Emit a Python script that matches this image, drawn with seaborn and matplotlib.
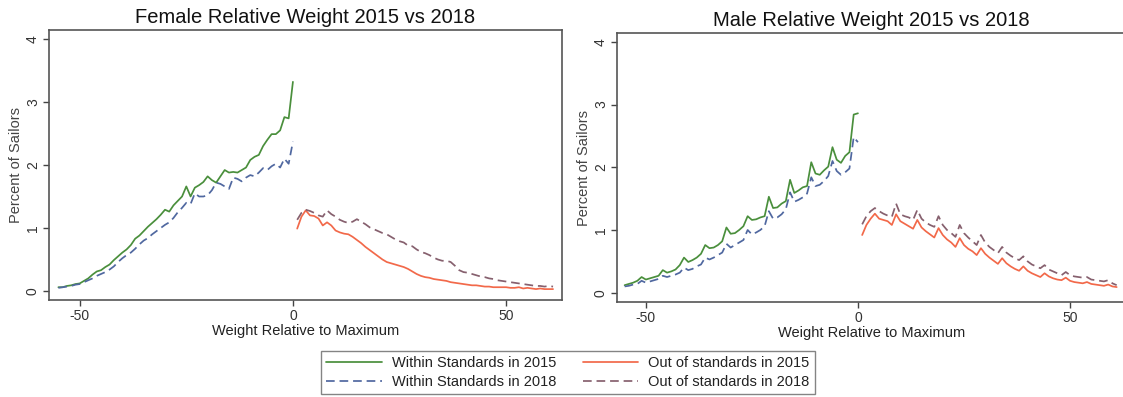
import numpy as np
import pandas as pd
import matplotlib
matplotlib.use("Agg")
import matplotlib.pyplot as plt
import seaborn as sns
from matplotlib.lines import Line2D

# ---------------- data ----------------
x_within = list(range(-55, 1))   # -55 .. 0
x_out = list(range(1, 62))       # 1 .. 61

female_within_2015 = [0.06, 0.06, 0.08, 0.09, 0.11, 0.12, 0.16, 0.20, 0.26, 0.31,
                      0.33, 0.38, 0.42, 0.49, 0.55, 0.61, 0.66, 0.73, 0.83, 0.88,
                      0.95, 1.02, 1.08, 1.14, 1.21, 1.29, 1.26, 1.36, 1.43, 1.50,
                      1.66, 1.50, 1.64, 1.68, 1.73, 1.82, 1.76, 1.72, 1.82, 1.92,
                      1.88, 1.89, 1.88, 1.92, 1.96, 2.08, 2.13, 2.16, 2.30, 2.40,
                      2.49, 2.49, 2.55, 2.76, 2.74, 3.32]
female_within_2018 = [0.05, 0.06, 0.07, 0.08, 0.10, 0.11, 0.14, 0.17, 0.20, 0.24,
                      0.27, 0.30, 0.34, 0.39, 0.46, 0.52, 0.57, 0.61, 0.67, 0.74,
                      0.80, 0.84, 0.90, 0.95, 1.00, 1.05, 1.09, 1.16, 1.25, 1.32,
                      1.40, 1.38, 1.55, 1.50, 1.50, 1.52, 1.60, 1.72, 1.70, 1.66,
                      1.62, 1.80, 1.78, 1.74, 1.80, 1.84, 1.82, 1.88, 1.95, 1.92,
                      1.98, 2.02, 1.96, 2.10, 2.02, 2.37]
female_out_2015 = [0.99, 1.18, 1.28, 1.20, 1.19, 1.15, 1.04, 1.09, 1.04, 0.96,
                   0.93, 0.91, 0.90, 0.86, 0.81, 0.76, 0.70, 0.65, 0.60, 0.55,
                   0.50, 0.46, 0.44, 0.42, 0.40, 0.38, 0.35, 0.31, 0.27, 0.24,
                   0.22, 0.21, 0.19, 0.18, 0.17, 0.16, 0.14, 0.13, 0.12, 0.11,
                   0.10, 0.09, 0.09, 0.08, 0.07, 0.07, 0.06, 0.06, 0.06, 0.06,
                   0.05, 0.05, 0.06, 0.04, 0.05, 0.04, 0.03, 0.04, 0.03, 0.03,
                   0.03]
female_out_2018 = [1.13, 1.24, 1.29, 1.27, 1.24, 1.20, 1.18, 1.28, 1.22, 1.18,
                   1.13, 1.10, 1.08, 1.10, 1.14, 1.10, 1.06, 1.01, 0.98, 0.95,
                   0.92, 0.90, 0.86, 0.82, 0.79, 0.77, 0.72, 0.71, 0.66, 0.62,
                   0.60, 0.57, 0.53, 0.50, 0.48, 0.48, 0.46, 0.40, 0.33, 0.30,
                   0.29, 0.27, 0.25, 0.23, 0.22, 0.20, 0.19, 0.17, 0.16, 0.15,
                   0.14, 0.13, 0.12, 0.11, 0.10, 0.09, 0.08, 0.08, 0.07, 0.08,
                   0.07]

male_within_2015 = [0.12, 0.14, 0.16, 0.19, 0.25, 0.21, 0.23, 0.25, 0.27, 0.36,
                    0.32, 0.34, 0.37, 0.44, 0.56, 0.49, 0.52, 0.56, 0.62, 0.76,
                    0.71, 0.72, 0.76, 0.82, 1.04, 0.94, 0.95, 1.00, 1.06, 1.22,
                    1.16, 1.17, 1.20, 1.22, 1.53, 1.35, 1.36, 1.42, 1.46, 1.80,
                    1.59, 1.63, 1.68, 1.70, 2.08, 1.90, 1.88, 1.95, 2.01, 2.32,
                    2.12, 2.07, 2.18, 2.24, 2.84, 2.86]
male_within_2018 = [0.10, 0.11, 0.13, 0.14, 0.19, 0.16, 0.18, 0.20, 0.22, 0.27,
                    0.25, 0.27, 0.29, 0.32, 0.40, 0.36, 0.38, 0.42, 0.45, 0.56,
                    0.53, 0.56, 0.60, 0.64, 0.78, 0.72, 0.76, 0.80, 0.84, 1.00,
                    0.93, 0.96, 1.00, 1.06, 1.30, 1.18, 1.20, 1.25, 1.33, 1.60,
                    1.45, 1.48, 1.52, 1.58, 1.84, 1.70, 1.72, 1.78, 1.86, 2.10,
                    1.94, 1.88, 1.92, 1.98, 2.48, 2.40]
male_out_2015 = [0.92, 1.08, 1.18, 1.26, 1.18, 1.16, 1.14, 1.08, 1.25, 1.14,
                 1.10, 1.06, 1.02, 1.16, 1.04, 0.98, 0.93, 0.88, 1.03, 0.92,
                 0.85, 0.80, 0.73, 0.87, 0.76, 0.70, 0.66, 0.60, 0.71, 0.62,
                 0.56, 0.51, 0.46, 0.55, 0.47, 0.42, 0.38, 0.35, 0.42, 0.35,
                 0.31, 0.28, 0.25, 0.31, 0.26, 0.23, 0.21, 0.20, 0.24, 0.19,
                 0.17, 0.16, 0.15, 0.17, 0.14, 0.13, 0.12, 0.11, 0.13, 0.10,
                 0.09]
male_out_2018 = [1.09, 1.22, 1.30, 1.35, 1.30, 1.26, 1.23, 1.21, 1.42, 1.25,
                 1.22, 1.20, 1.16, 1.32, 1.18, 1.12, 1.08, 1.05, 1.22, 1.08,
                 1.00, 0.95, 0.89, 1.08, 0.95, 0.88, 0.82, 0.76, 0.92, 0.80,
                 0.73, 0.68, 0.63, 0.73, 0.64, 0.59, 0.55, 0.52, 0.58, 0.50,
                 0.45, 0.42, 0.39, 0.44, 0.37, 0.34, 0.31, 0.28, 0.33, 0.28,
                 0.26, 0.25, 0.24, 0.25, 0.21, 0.20, 0.19, 0.18, 0.20, 0.15,
                 0.12]

# legend order (column-major: first column = Within, second = Out of)
series_labels = ["Within Standards in 2015", "Within Standards in 2018",
                 "Out of standards in 2015", "Out of standards in 2018"]
panel_titles = ["Female Relative Weight 2015 vs 2018", "Male Relative Weight 2015 vs 2018"]
x_ticks = [-50, 0, 50]
y_ticks = [0, 1, 2, 3, 4]
x_label = "Weight Relative to Maximum"
y_label = "Percent of Sailors"

# ---------------- style ----------------
sns.set_theme(style="white")
plt.rcParams['font.family'] = ['Liberation Sans', 'DejaVu Sans']

styles = {
    "Within Standards in 2015": dict(color="#4a8f3c", ls="-"),
    "Within Standards in 2018": dict(color="#5068a0", ls=(0, (5, 2.8))),
    "Out of standards in 2015": dict(color="#f2694a", ls="-"),
    "Out of standards in 2018": dict(color="#86606e", ls=(0, (5, 2.8))),
}

panels = [
    {"Within Standards in 2015": (x_within, female_within_2015),
     "Within Standards in 2018": (x_within, female_within_2018),
     "Out of standards in 2015": (x_out, female_out_2015),
     "Out of standards in 2018": (x_out, female_out_2018)},
    {"Within Standards in 2015": (x_within, male_within_2015),
     "Within Standards in 2018": (x_within, male_within_2018),
     "Out of standards in 2015": (x_out, male_out_2015),
     "Out of standards in 2018": (x_out, male_out_2018)},
]

W, H = 1123, 397
fig = plt.figure(figsize=(W / 100, H / 100), dpi=100)
fig.patch.set_facecolor("white")

def frac(l, r, t, b):
    return [l / W, (H - b) / H, (r - l) / W, (b - t) / H]

axes = [fig.add_axes(frac(49, 562, 30, 300)),
        fig.add_axes(frac(617, 1126, 33, 302))]
xlims = [(-57.2, 63.1), (-56.8, 63.2)]
ylims = [(-0.143, 4.143), (-0.148, 4.14)]

draw_order = ["Within Standards in 2015", "Within Standards in 2018",
              "Out of standards in 2015", "Out of standards in 2018"]

for ax, pdata, title, xl, yl in zip(axes, panels, panel_titles, xlims, ylims):
    for name in draw_order:
        xs, ys = pdata[name]
        df = pd.DataFrame({"x": xs, "y": ys})
        st = styles[name]
        sns.lineplot(data=df, x="x", y="y", ax=ax, color=st["color"],
                     linestyle=st["ls"], linewidth=1.25, estimator=None, sort=False)
    ax.set_xlim(*xl)
    ax.set_ylim(*yl)
    ax.set_xticks(x_ticks)
    ax.set_yticks(y_ticks)
    ax.set_xticklabels([str(v) for v in x_ticks])
    ax.set_yticklabels([str(v) for v in y_ticks], rotation=90, va="center")
    ax.tick_params(axis="both", direction="out", length=4.5, width=1.0,
                   color="#444444", labelcolor="#333333", labelsize=10,
                   bottom=True, left=True, pad=2)
    ax.set_xlabel(x_label, fontsize=10.5, color="#222222", labelpad=1)
    ax.set_ylabel(y_label, fontsize=10.5, color="#444444", labelpad=2)
    ax.set_title(title, fontsize=14.5, color="#111111", pad=5)
    for s in ax.spines.values():
        s.set_color("#555555")
        s.set_linewidth(1.2)
    ax.grid(False)
    ax.set_facecolor("white")

handles = [Line2D([], [], color=styles[n]["color"], linestyle=styles[n]["ls"], linewidth=1.25)
           for n in series_labels]
leg = fig.legend(handles, series_labels, loc="center", bbox_to_anchor=(568 / W, 1 - 372.5 / H),
                 ncol=2, fontsize=10.5, frameon=True, fancybox=False, handlelength=3.8,
                 handletextpad=0.7, columnspacing=1.8, labelspacing=0.3, borderpad=0.35)
leg.get_frame().set_edgecolor("#666666")
leg.get_frame().set_linewidth(1.0)
for t in leg.get_texts():
    t.set_color("#222222")

fig.savefig("out.png", dpi=100, facecolor="white")
